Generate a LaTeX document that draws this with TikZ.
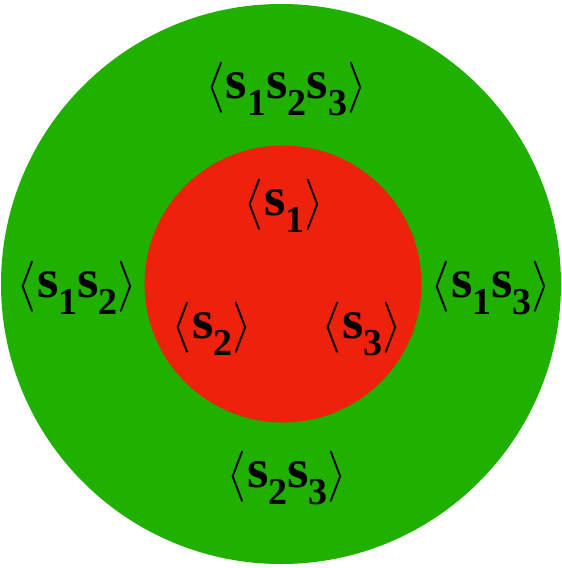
\documentclass[tikz,border=0pt]{standalone}
\usepackage{fontspec}
\setmainfont{Liberation Serif}
\definecolor{ringgreen}{HTML}{1FB000}
\definecolor{corered}{HTML}{EE220C}
\newcommand{\labelfont}{\fontsize{55}{60}\selectfont\bfseries}
\newcommand{\gen}[1]{s\raisebox{-17pt}{\fontsize{38}{38}\selectfont #1}}
\newcommand{\angl}[1]{\raisebox{-2pt}{\scalebox{5.1}{\fontsize{10}{10}\selectfont$#1$}}}
\newcommand{\grp}[1]{\angl{\langle}\kern1pt#1\angl{\rangle}}
\tikzset{grouplabel/.style={anchor=base, inner sep=0pt, font=\labelfont}}

\begin{document}
\begin{tikzpicture}[x=1pt, y=-1pt]
\useasboundingbox (0,0) rectangle (562,568);
\node[circle, fill=ringgreen, inner sep=0pt, minimum size=560pt] (ring) at (281,284) {};
\node[circle, fill=corered, inner sep=0pt, minimum size=277pt] (core) at (283,284) {};
% labels in the ring
\node[grouplabel] (s123) at (286,98) {\grp{\gen{1}\gen{2}\gen{3}}};
\node[grouplabel] (s12) at (77,297) {\grp{\gen{1}\gen{2}}};
\node[grouplabel] (s13) at (491,297) {\grp{\gen{1}\gen{3}}};
\node[grouplabel] (s23) at (287,487) {\grp{\gen{2}\gen{3}}};
% labels in the core
\node[grouplabel] (s1) at (284,215) {\grp{\gen{1}}};
\node[grouplabel] (s2) at (212,338) {\grp{\gen{2}}};
\node[grouplabel] (s3) at (362,338) {\grp{\gen{3}}};
\end{tikzpicture}
\end{document}
